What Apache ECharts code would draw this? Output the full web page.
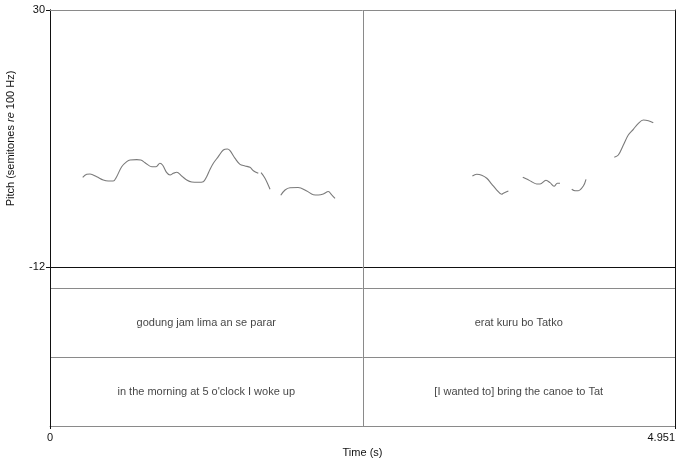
<!DOCTYPE html>
<html>
<head>
<meta charset="utf-8">
<script src="https://cdn.jsdelivr.net/npm/echarts@6/dist/echarts.min.js"></script>
<style>
  html, body { margin: 0; padding: 0; background: #fff; }
  #chart { width: 686px; height: 459px; }
</style>
</head>
<body>
<div id="chart"></div>
<script>
// Time range (s) and pitch range (semitones re 100 Hz)
const timeMax = 4.951;
const pitchMin = -12;
const pitchMax = 30;

// Boundary between the two intonation units (s)
const unitBoundary = 2.4755;

// Pitch contour pieces: [time (s), pitch (st)]
const contour1 = [
  [0.259, 2.66], [0.291, 3.15], [0.317, 3.20], [0.370, 2.76], [0.422, 2.22],
  [0.462, 2.05], [0.501, 2.05], [0.528, 2.76], [0.568, 4.39], [0.608, 5.21],
  [0.634, 5.49], [0.687, 5.54], [0.719, 5.49], [0.753, 5.05], [0.806, 4.39],
  [0.840, 4.39], [0.871, 4.95], [0.893, 4.62], [0.925, 3.41], [0.951, 3.03],
  [0.977, 3.31], [1.004, 3.48], [1.043, 2.87], [1.083, 2.22], [1.123, 1.89],
  [1.175, 1.84], [1.214, 1.94], [1.241, 2.76], [1.268, 3.97], [1.294, 4.95],
  [1.333, 6.03], [1.373, 7.12], [1.405, 7.28], [1.426, 7.01], [1.466, 5.76],
  [1.505, 4.78], [1.545, 4.51], [1.584, 4.29], [1.611, 3.74], [1.650, 3.31]
];
const contour2 = [
  [1.672, 3.41], [1.703, 2.50], [1.743, 0.70]
];
const contour3 = [
  [1.828, -0.28], [1.862, 0.58], [1.901, 0.96], [1.965, 0.99], [2.034, 0.42],
  [2.086, -0.18], [2.126, -0.23], [2.165, -0.07], [2.205, 0.34], [2.232, -0.23],
  [2.258, -0.77]
];
const contour4 = [
  [3.346, 2.87], [3.380, 3.15], [3.420, 2.99], [3.460, 2.50], [3.499, 1.56],
  [3.539, 0.58], [3.578, -0.12], [3.591, 0.04], [3.631, 0.42]
];
const contour5 = [
  [3.745, 2.66], [3.776, 2.38], [3.816, 1.94], [3.856, 1.56], [3.882, 1.56],
  [3.929, 2.17], [3.961, 1.78], [3.993, 1.19], [4.019, 1.68], [4.040, 1.68]
];
const contour6 = [
  [4.133, 0.70], [4.159, 0.47], [4.185, 0.47], [4.225, 1.24], [4.246, 2.33]
];
const contour7 = [
  [4.470, 5.93], [4.502, 6.30], [4.542, 7.94], [4.581, 9.57], [4.621, 10.50],
  [4.661, 11.48], [4.700, 12.02], [4.740, 11.91], [4.779, 11.58]
];
const contours = [contour1, contour2, contour3, contour4, contour5, contour6, contour7];

// Transcription tiers: one entry per interval
const intervalStarts = [0, unitBoundary];
const intervalEnds = [unitBoundary, timeMax];
const tierVernacular = ['godung jam lima an se parar', 'erat kuru bo Tatko'];
const tierTranslation = ['in the morning at 5 o\'clock I woke up', '[I wanted to] bring the canoe to Tat'];

const FONT = 'Liberation Sans, Arial, sans-serif';
const INK = '#111111';
const RULE = '#8a8a8a';
const CURVE = '#7a7a7a';

const tierPoints = [];
intervalStarts.forEach((s, i) => {
  const mid = (s + intervalEnds[i]) / 2;
  tierPoints.push([mid, 0.5, tierVernacular[i]]);
  tierPoints.push([mid, 1.5, tierTranslation[i]]);
});

const chart = echarts.init(document.getElementById('chart'), null, { renderer: 'canvas' });

const frame = { left: 50, top: 10, width: 625, height: 416 };

const plainLine = (color) => ({ show: true, onZero: false, lineStyle: { color: color, width: 1 } });
const gridBase = { left: frame.left, width: frame.width, containLabel: false, outerBoundsMode: 'none' };

const option = {
  animation: false,
  backgroundColor: '#fff',
  textStyle: { fontFamily: FONT },
  grid: [
    Object.assign({ top: frame.top, height: frame.height }, gridBase),
    Object.assign({ top: frame.top, height: 257 }, gridBase),
    Object.assign({ top: 288, height: 138 }, gridBase)
  ],
  xAxis: [
    { // time axis along the bottom of the whole frame
      gridIndex: 0, type: 'value', min: 0, max: timeMax, interval: timeMax,
      position: 'bottom',
      axisLine: plainLine(RULE),
      axisTick: { show: true, length: 3, lineStyle: { color: INK } },
      axisLabel: {
        fontSize: 11, color: INK, fontFamily: FONT, margin: 6,
        alignMaxLabel: 'right',
        formatter: v => (v === 0 ? '0' : String(timeMax))
      },
      splitLine: { show: false },
      name: 'Time (s)', nameLocation: 'middle', nameGap: 20,
      nameTextStyle: { fontSize: 11, color: INK, fontFamily: FONT }
    },
    { // top edge of the frame
      gridIndex: 0, type: 'value', min: 0, max: timeMax, position: 'top',
      axisLine: plainLine(RULE),
      axisTick: { show: false }, axisLabel: { show: false }, splitLine: { show: false }
    },
    { // bottom of the pitch panel
      gridIndex: 1, type: 'value', min: 0, max: timeMax, position: 'bottom',
      axisLine: plainLine(INK),
      axisTick: { show: false }, axisLabel: { show: false }, splitLine: { show: false }
    },
    { // tier panel
      gridIndex: 2, type: 'value', min: 0, max: timeMax, show: false
    }
  ],
  yAxis: [
    {
      gridIndex: 0, type: 'value', min: 0, max: 1, position: 'left',
      axisLine: plainLine(INK),
      axisTick: { show: false }, axisLabel: { show: false }, splitLine: { show: false }
    },
    {
      gridIndex: 0, type: 'value', min: 0, max: 1, position: 'right',
      axisLine: plainLine(INK),
      axisTick: { show: false }, axisLabel: { show: false }, splitLine: { show: false }
    },
    { // pitch axis
      gridIndex: 1, type: 'value', min: pitchMin, max: pitchMax, interval: pitchMax - pitchMin,
      position: 'left',
      axisLine: plainLine(INK),
      axisTick: { show: true, length: 4, lineStyle: { color: INK } },
      axisLabel: { fontSize: 11, color: INK, fontFamily: FONT, margin: 5 },
      splitLine: { show: false },
      name: 'Pitch (semitones {it|re} 100 Hz)',
      nameLocation: 'middle', nameGap: 34,
      nameTextStyle: {
        fontSize: 11, color: INK, fontFamily: FONT,
        rich: { it: { fontStyle: 'italic', fontSize: 11, color: INK, fontFamily: FONT } }
      }
    },
    { // tier rows
      gridIndex: 2, type: 'value', min: 0, max: 2, interval: 1, inverse: true,
      axisLine: { show: false }, axisTick: { show: false }, axisLabel: { show: false },
      splitLine: { show: true, lineStyle: { color: RULE, width: 1 } }
    }
  ],
  series: [
    {
      type: 'line', xAxisIndex: 0, yAxisIndex: 0, data: [],
      silent: true,
      markLine: {
        silent: true, symbol: ['none', 'none'],
        label: { show: false },
        lineStyle: { color: RULE, width: 1, type: 'solid' },
        data: [{ xAxis: unitBoundary }]
      }
    },
    ...contours.map(c => ({
      type: 'line', xAxisIndex: 2, yAxisIndex: 2,
      data: c, showSymbol: false, smooth: 0.35, silent: true,
      lineStyle: { color: CURVE, width: 1.1 }
    })),
    {
      type: 'scatter', xAxisIndex: 3, yAxisIndex: 3,
      data: tierPoints, symbolSize: 1, silent: true,
      itemStyle: { color: 'rgba(0,0,0,0)' },
      label: {
        show: true, position: 'inside',
        fontSize: 11, color: INK, fontFamily: FONT,
        textBorderWidth: 0,
        formatter: p => p.data[2]
      }
    }
  ]
};

chart.setOption(option);
</script>
</body>
</html>
